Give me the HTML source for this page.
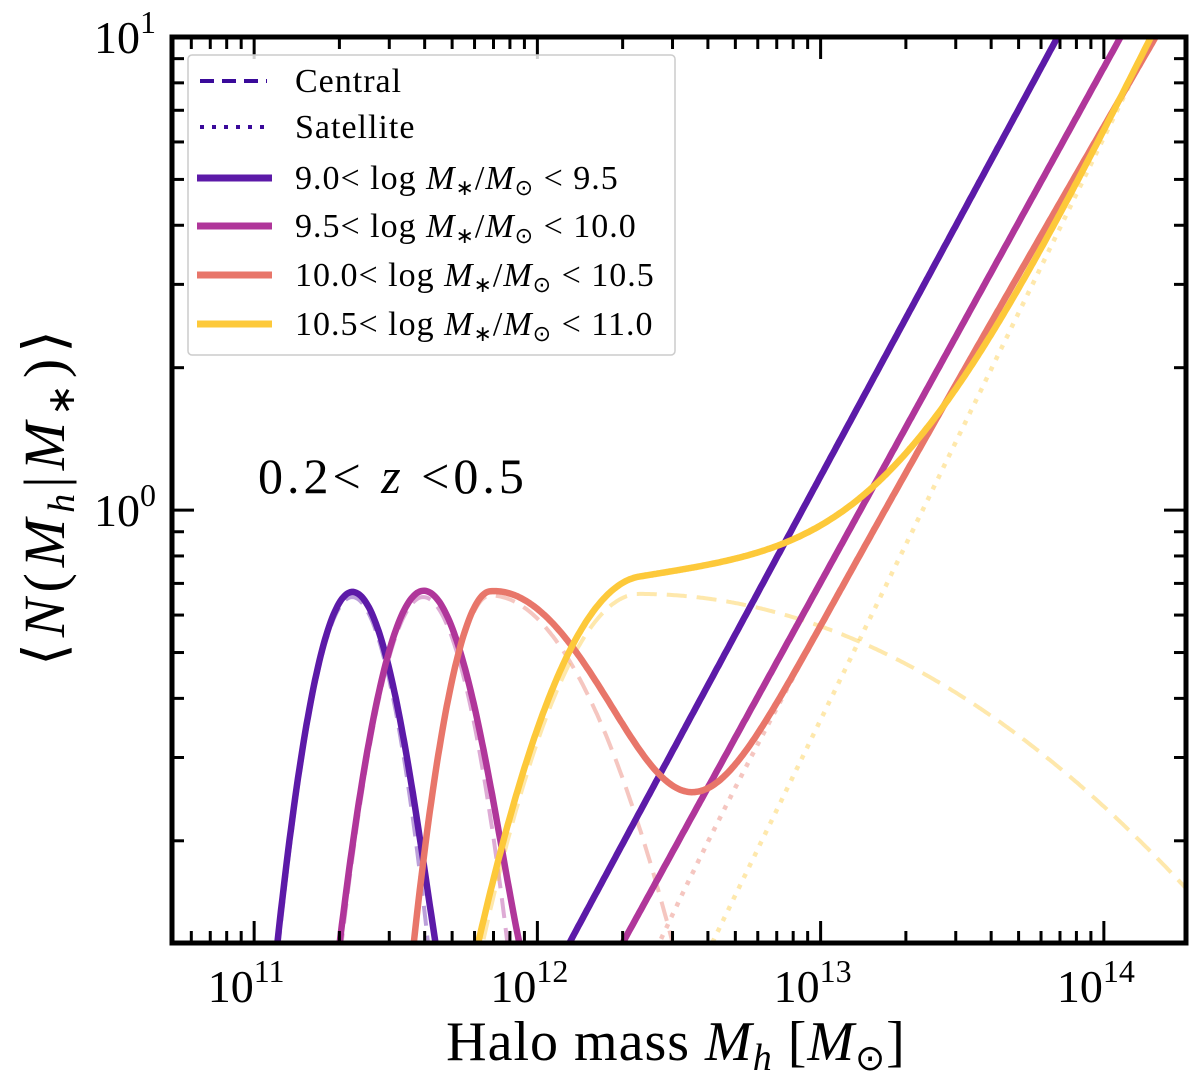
<!DOCTYPE html>
<html><head><meta charset="utf-8"><style>
html,body{margin:0;padding:0;background:#fff;width:1200px;height:1085px;overflow:hidden}
text{font-family:"Liberation Serif",serif;fill:#000}
</style></head><body>
<svg id="chart" width="1200" height="1085" viewBox="0 0 1200 1085" xmlns="http://www.w3.org/2000/svg" style="display:block">
<defs><clipPath id="clip"><rect x="172" y="37" width="1014" height="906"/></clipPath></defs>
<g id="curves" clip-path="url(#clip)"></g>
<g id="ticks"></g>
<rect x="172" y="37" width="1014" height="906" fill="none" stroke="#000" stroke-width="5"/>
<g id="legend">
<rect x="188" y="55" width="487" height="300" rx="4" fill="#fff" fill-opacity="0.82" stroke="#ccc" stroke-width="1.5"/>
</g>
<text x="258" y="493" font-size="50" letter-spacing="4">0.2&lt; <tspan font-style="italic">z</tspan> &lt;0.5</text>
<text x="676" y="1060" font-size="56" text-anchor="middle" letter-spacing="1">Halo mass <tspan font-style="italic">M</tspan><tspan font-style="italic" font-size="38" dy="10">h</tspan><tspan dy="-10"> [</tspan><tspan font-style="italic">M</tspan><tspan font-size="36" dy="10">⊙</tspan><tspan dy="-10">]</tspan></text>
<text transform="translate(64,495) rotate(-90)" font-size="58" text-anchor="middle" letter-spacing="6">⟨<tspan font-style="italic">N</tspan>(<tspan font-style="italic">M</tspan><tspan font-style="italic" font-size="38" dy="10">h</tspan><tspan dy="-10">|</tspan><tspan font-style="italic">M</tspan><tspan font-size="38" dy="10">∗</tspan><tspan dy="-10">)⟩</tspan></text>
</svg>
<script>
// data
const binLabels=["9.0< log ","9.5< log ","10.0< log ","10.5< log "];
const binUpper=["9.5","10.0","10.5","11.0"];
const colors=["#5c1aa8","#b0369a","#e8766a","#fdc93a"];
const cenPeakLogM=[11.346,11.597,11.834,12.36];
const cenPeakN=[0.655,0.655,0.66,0.665];
const cenSigmaLeft=[0.141,0.157,0.146,0.30];
const cenSigmaRight=[0.146,0.162,0.35,1.14];
const satLogM1=[12.935,13.14,13.21,13.36];
const satAlpha=[1.109,1.088,1.03,1.23];
const satCutLogM=[10,10,11.84,10];
const xMajor=[11,12,13,14];
const yMajor=[0,1];

const X0=172,X1=1186,Y0=37,Y1=943;
const LX0=10.71,LX1=14.29,LY0=-0.915,LY1=1;
const sx=l=>X0+(l-LX0)/(LX1-LX0)*(X1-X0);
const sy=n=>Y1-(Math.log10(n)-LY0)/(LY1-LY0)*(Y1-Y0);
const NS="http://www.w3.org/2000/svg";
function mk(tag,attrs,parent){const e=document.createElementNS(NS,tag);for(const k in attrs)e.setAttribute(k,attrs[k]);parent.appendChild(e);return e;}
function cen(i,l){const d=l-cenPeakLogM[i];const s=d<0?cenSigmaLeft[i]:cenSigmaRight[i];return cenPeakN[i]*Math.exp(-d*d/(2*s*s));}
function sat(i,l){return Math.pow(10,satAlpha[i]*(l-satLogM1[i]))*Math.exp(-Math.pow(10,satCutLogM[i]-l));}
function path(f){let p="";for(let l=LX0;l<=LX1+1e-9;l+=0.005){let v=Math.max(f(l),1e-3);let y=Math.min(sy(v),1000);p+=(p?"L":"M")+sx(l).toFixed(1)+","+y.toFixed(1);}return p;}
const g=document.getElementById('curves');
for(let i=0;i<4;i++){
  const d=mk('path',{d:path(l=>cen(i,l)),fill:'none',stroke:colors[i],'stroke-width':4,'stroke-dasharray':'20,10','stroke-opacity':0.42},g);
  
  
  const s=mk('path',{d:path(l=>sat(i,l)),fill:'none',stroke:colors[i],'stroke-width':4.5,'stroke-dasharray':'4.5,7.5','stroke-opacity':0.42},g);
  
  
}
for(let i=0;i<4;i++){
  const t=mk('path',{d:path(l=>cen(i,l)+sat(i,l)),fill:'none',stroke:colors[i],'stroke-width':6.5},g);
  
  
}
// ticks
const tg=document.getElementById('ticks');
function tk(x1,y1,x2,y2){mk('line',{x1,y1,x2,y2,stroke:'#000','stroke-width':3},tg);}
for(let e=10;e<=14;e++)for(let m=1;m<=9;m++){const l=e+Math.log10(m);if(l<LX0||l>LX1)continue;const x=sx(l),L=m==1?22:12;tk(x,Y1,x,Y1-L);tk(x,Y0,x,Y0+L);}
for(let e=-1;e<=0;e++)for(let m=1;m<=9;m++){const l=e+Math.log10(m);if(l<LY0||l>LY1)continue;const y=sy(Math.pow(10,l)),L=m==1?22:12;tk(X0,y,X0+L,y);tk(X1,y,X1-L,y);}
xMajor.forEach(e=>{const t=mk('text',{x:sx(e)-8,y:1002,'font-size':46,'text-anchor':'middle'},tg);t.innerHTML='10<tspan font-size="32" dy="-20">'+e+'</tspan>';

});
yMajor.forEach(e=>{const t=mk('text',{x:156,y:sy(Math.pow(10,e))+16,'font-size':46,'text-anchor':'end'},tg);t.innerHTML='10<tspan font-size="32" dy="-20">'+e+'</tspan>';

});
// legend
const lg=document.getElementById('legend');
const ly=[81,127,178,226,275,324];
let a=mk('line',{x1:200,y1:ly[0],x2:267,y2:ly[0],stroke:'#3a0a9a','stroke-width':4,'stroke-dasharray':'14,8'},lg);

a=mk('line',{x1:200,y1:ly[1],x2:267,y2:ly[1],stroke:'#3a0a9a','stroke-width':4,'stroke-dasharray':'4,8'},lg);

let t=mk('text',{x:295,y:ly[0]+11,'font-size':34,'letter-spacing':1},lg);t.textContent='Central';

t=mk('text',{x:295,y:ly[1]+11,'font-size':34,'letter-spacing':1},lg);t.textContent='Satellite';

for(let i=0;i<4;i++){const y=ly[i+2];
 const s=mk('line',{x1:197,y1:y,x2:272,y2:y,stroke:colors[i],'stroke-width':7},lg);
 
 const tx=mk('text',{x:295,y:y+11,'font-size':34,'letter-spacing':1},lg);
 tx.innerHTML=binLabels[i]+'<tspan font-style="italic">M</tspan><tspan font-size="22" dy="6">∗</tspan><tspan dy="-6">/</tspan><tspan font-style="italic">M</tspan><tspan font-size="22" dy="6">⊙</tspan><tspan dy="-6"> &lt; '+binUpper[i]+'</tspan>';
 }
</script>
</body></html>
